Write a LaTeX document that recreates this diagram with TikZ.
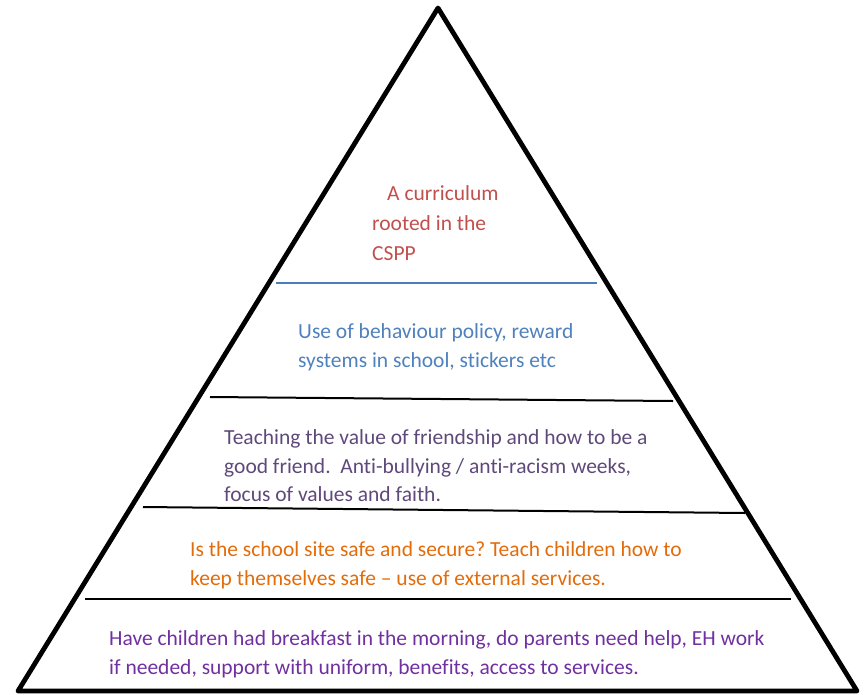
\documentclass[tikz,border=0pt]{standalone}
\usepackage{fontspec}
\setmainfont{Carlito}[Ligatures=NoCommon]
\frenchspacing
\definecolor{cred}{HTML}{C0504D}
\definecolor{cblue}{HTML}{4F81BD}
\definecolor{cgrape}{HTML}{5F497A}
\definecolor{corange}{HTML}{E36C0A}
\definecolor{cpurple}{HTML}{7030A0}
\definecolor{cline}{HTML}{4A7EBB}
\begin{document}
\begin{tikzpicture}[x=1pt,y=-1pt,
  txt/.style={anchor=base west, inner sep=0pt, font=\fontsize{21.5}{26}\selectfont},
  tier/.style={line width=2pt},
]
\useasboundingbox (0,0) rectangle (865,694);
\coordinate (apex) at (438,8);
\coordinate (br) at (857,691);
\coordinate (bl) at (18,691);
\draw[line width=4.8pt, line join=round] (apex) -- (br) -- (bl) -- cycle;
% tier lines
\coordinate (l1a) at (276,283); \coordinate (l1b) at (597,283);
\coordinate (l2a) at (210,397); \coordinate (l2b) at (673,401);
\coordinate (l3a) at (143,507); \coordinate (l3b) at (745,513);
\coordinate (l4a) at (85,599);  \coordinate (l4b) at (791,599);
\draw[tier, cline] (l1a) -- (l1b);
\draw[tier] (l2a) -- (l2b);
\draw[tier] (l3a) -- (l3b);
\draw[tier] (l4a) -- (l4b);
% texts
\node[txt, text=cred] (r1) at (387,200) {A curriculum};
\node[txt, text=cred] (r2) at (372,230) {rooted in the};
\node[txt, text=cred] (r3) at (372,260) {CSPP};
\node[txt, text=cblue] (b1) at (298,338) {Use of behaviour policy, reward};
\node[txt, text=cblue] (b2) at (298,367) {systems in school, stickers etc};
\node[txt, text=cgrape] (g1) at (224,444) {Teaching the value of friendship and how to be a};
\node[txt, text=cgrape] (g2) at (224,473) {good friend.\ \ Anti-bullying / anti-racism weeks,};
\node[txt, text=cgrape] (g3) at (224,501) {focus of values and faith.};
\node[txt, text=corange] (o1) at (190,556) {Is the school site safe and secure? Teach children how to};
\node[txt, text=corange] (o2) at (190,585) {keep themselves safe – use of external services.};
\node[txt, text=cpurple] (p1) at (109,645) {Have children had breakfast in the morning, do parents need help, EH work};
\node[txt, text=cpurple] (p2) at (109,674) {if needed, support with uniform, benefits, access to services.};
\end{tikzpicture}
\end{document}
